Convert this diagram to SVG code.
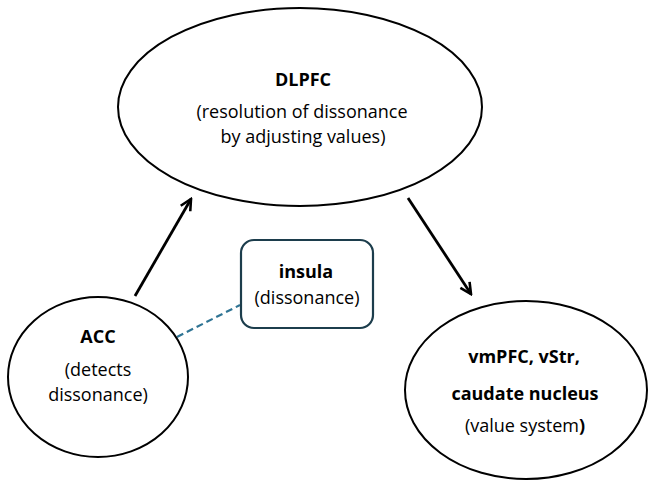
<svg xmlns="http://www.w3.org/2000/svg" width="648" height="481" viewBox="0 0 648 481">
  <style>
    .node { fill: #ffffff; stroke: #000000; stroke-width: 2; }
    .box { fill: #ffffff; stroke: #1c3d4c; stroke-width: 2.2; }
    .t { font-family: "Open Sans", "Noto Sans", "Liberation Sans", sans-serif; font-size: 18px; fill: #000000; text-anchor: middle; }
    .b { font-weight: bold; font-size: 18px; }
    .arrow { stroke: #000000; stroke-width: 2.8; fill: none; marker-end: url(#head); }
    .dash { stroke: #2f7494; stroke-width: 2.2; stroke-dasharray: 7 4; fill: none; }
  </style>
  <defs>
    <marker id="head" viewBox="0 0 14 14" refX="12" refY="7" markerWidth="14" markerHeight="14" markerUnits="userSpaceOnUse" orient="auto">
      <path d="M1,1.5 L12,7 L1,12.5" fill="none" stroke="#000000" stroke-width="2.6" stroke-linejoin="miter"/>
    </marker>
  </defs>
  <rect width="648" height="481" fill="#ffffff"/>
  <g id="connectors">
    <line class="arrow" x1="135" y1="296" x2="191" y2="199"/>
    <line class="arrow" x1="408" y1="198" x2="471" y2="294"/>
    <line class="dash" x1="177" y1="337" x2="240" y2="305"/>
  </g>
  <g id="dlpfc">
    <ellipse class="node" cx="300" cy="107" rx="182" ry="99"/>
    <text class="t b" x="303" y="86">DLPFC</text>
    <text class="t" x="302" y="118">(resolution of dissonance</text>
    <text class="t" x="303" y="143">by adjusting values)</text>
  </g>
  <g id="acc">
    <ellipse class="node" cx="98" cy="377" rx="90" ry="80"/>
    <text class="t b" x="98" y="343">ACC</text>
    <text class="t" x="98" y="376">(detects</text>
    <text class="t" x="98" y="401">dissonance)</text>
  </g>
  <g id="insula">
    <rect class="box" x="241" y="240" width="132" height="88" rx="13" ry="13"/>
    <text class="t b" x="306" y="278">insula</text>
    <text class="t" x="307" y="304">(dissonance)</text>
  </g>
  <g id="value">
    <ellipse class="node" cx="526" cy="390" rx="121" ry="89"/>
    <text class="t b" x="524" y="363">vmPFC, vStr,</text>
    <text class="t b" x="525" y="400">caudate nucleus</text>
    <text class="t" x="525" y="432">(value system<tspan font-weight="bold">)</tspan></text>
  </g>
</svg>
